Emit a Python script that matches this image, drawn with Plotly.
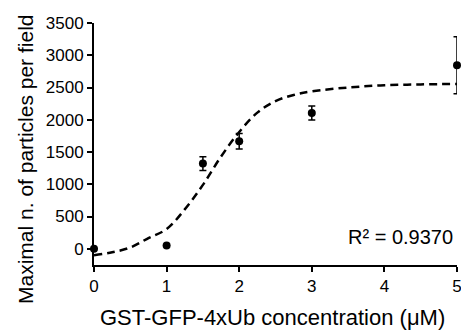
import plotly.graph_objects as go

# Data points
conc = [0, 1, 1.5, 2, 3, 5]
particles = [0, 50, 1320, 1665, 2105, 2845]
err = [0, 0, 105, 120, 110, 440]

# Fitted curve
fit_x = [0, 0.25, 0.5, 0.75, 1.0, 1.25, 1.5, 1.75, 2.0, 2.25, 2.5, 2.75, 3.0, 3.5, 4.0, 4.5, 5.0]
fit_y = [-100, -55, 20, 165, 305, 610, 990, 1430, 1810, 2110, 2290, 2385, 2440, 2500, 2535, 2548, 2555]

x_ticks = [0, 1, 2, 3, 4, 5]
y_ticks = [0, 500, 1000, 1500, 2000, 2500, 3000, 3500]

x_title = "GST-GFP-4xUb concentration (μM)"
y_title = "Maximal n. of particles per field"
r2_text = "R² = 0.9370"

FONT = "Liberation Sans, Arial, sans-serif"

fig = go.Figure()
fig.add_trace(go.Scatter(
    x=fit_x, y=fit_y, mode="lines", line_shape="spline",
    line=dict(color="black", width=2.5, dash="8px,5px"),
    cliponaxis=False, showlegend=False, hoverinfo="skip"))
fig.add_trace(go.Scatter(
    x=conc, y=particles, mode="markers",
    marker=dict(color="black", size=8),
    error_y=dict(type="data", array=err, visible=True, color="black", thickness=1.5, width=3.5),
    cliponaxis=False, showlegend=False))

fig.add_annotation(x=1, y=0, xref="paper", yref="paper", xanchor="right", yanchor="bottom",
                   text=r2_text, showarrow=False, xshift=-2, yshift=15,
                   font=dict(family=FONT, size=20, color="black"))
fig.add_annotation(x=0.493, y=0, xref="paper", yref="paper", xanchor="center", yanchor="middle",
                   text=x_title, showarrow=False, yshift=-52,
                   font=dict(family=FONT, size=22, color="black"))
fig.add_annotation(x=0, y=0.434, xref="paper", yref="paper", xanchor="center", yanchor="middle",
                   text=y_title, showarrow=False, textangle=-90, xshift=-68,
                   font=dict(family=FONT, size=21, color="black"))

fig.update_layout(
    width=461, height=331,
    margin=dict(l=94, r=4, t=23, b=66, autoexpand=False),
    paper_bgcolor="white", plot_bgcolor="white",
    font=dict(family=FONT, color="black"),
)
fig.update_xaxes(
    range=[0, 5], tickvals=x_ticks, ticks="outside", ticklen=5, tickwidth=2, tickcolor="black",
    showline=True, linewidth=2, linecolor="black", showgrid=False, zeroline=False,
    ticklabeloverflow="allow", automargin=False,
    tickfont=dict(size=17, family=FONT, color="black"),
)
fig.update_yaxes(
    range=[-252, 3500], tickvals=y_ticks, ticks="outside", ticklen=5, tickwidth=2, tickcolor="black",
    showline=True, linewidth=2, linecolor="black", showgrid=False, zeroline=False,
    ticklabeloverflow="allow", automargin=False,
    tickfont=dict(size=17, family=FONT, color="black"),
)

fig.write_html("out.html")
